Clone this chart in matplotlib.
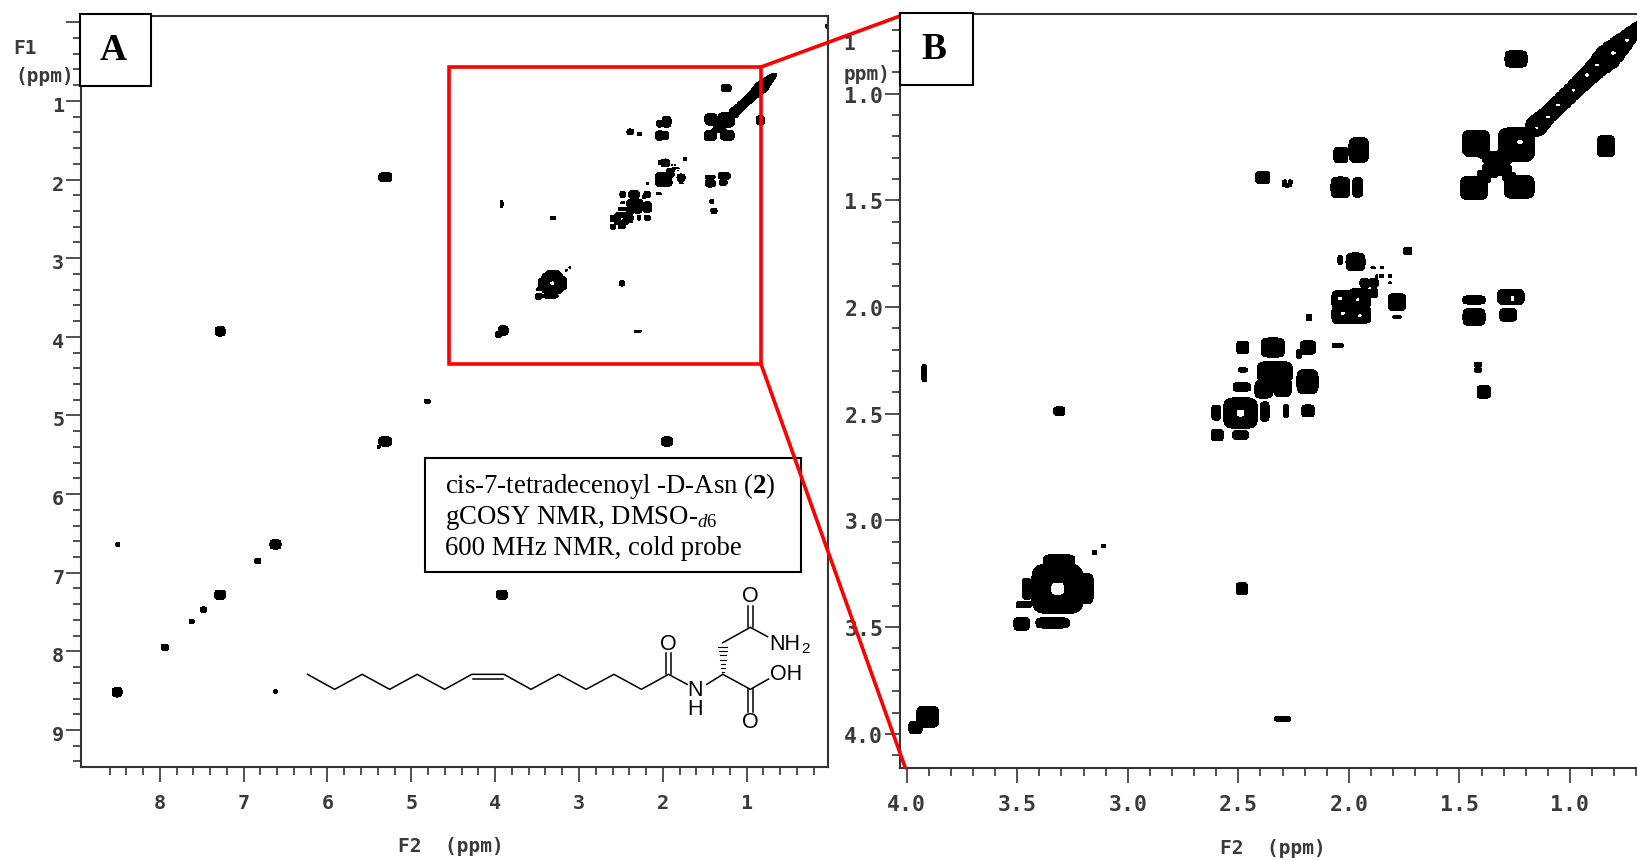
import numpy as np
import matplotlib
matplotlib.use("Agg")
import matplotlib.pyplot as plt
from matplotlib.patches import Rectangle
from matplotlib.transforms import ScaledTranslation

plt.rcParams['mathtext.fontset'] = 'custom'
plt.rcParams['mathtext.rm'] = 'Liberation Serif'
plt.rcParams['mathtext.bf'] = 'Liberation Serif:bold'
plt.rcParams['mathtext.it'] = 'Liberation Serif:italic'

# Cross peaks: (F2 ppm, F1 ppm, half-width F2, half-width F1)
methyl_peaks = [
    (1.244, 0.838, .050, .039), (0.837, 1.247, .040, .050),
    (1.242, 1.240, .083, .080), (1.425, 1.234, .062, .062),
    (1.434, 1.443, .062, .055), (1.230, 1.437, .068, .055),
    (1.390, 1.390, .030, .030), (1.360, 1.360, .035, .035),
    (1.300, 1.300, .035, .035), (1.275, 1.390, .030, .022),
    (1.300, 1.360, .035, .025), (1.360, 1.300, .035, .030),
    (1.390, 1.275, .028, .028), (1.330, 1.330, .045, .045),
]
diagonal_ridge = [
    (1.15, 1.15, .050, .050), (1.13, 1.13, .046, .046), (1.11, 1.11, .042, .042),
    (1.09, 1.09, .042, .042), (1.07, 1.07, .042, .042), (1.05, 1.05, .042, .042),
    (1.03, 1.03, .042, .042), (1.01, 1.01, .042, .042), (0.99, 0.99, .042, .042),
    (0.97, 0.97, .043, .043), (0.95, 0.95, .044, .044), (0.93, 0.93, .045, .045),
    (0.91, 0.91, .046, .046), (0.89, 0.89, .048, .048), (0.87, 0.87, .050, .050),
    (0.85, 0.85, .056, .056), (0.83, 0.83, .060, .060), (0.805, 0.805, .056, .056),
    (0.78, 0.78, .050, .050), (0.76, 0.76, .045, .045), (0.74, 0.74, .040, .040),
    (0.72, 0.72, .036, .036), (0.70, 0.70, .032, .032), (0.685, 0.685, .026, .026),
    (0.67, 0.67, .020, .020),
]
region_14_peaks = [
    (1.955, 1.265, .045, .058), (2.036, 1.288, .032, .037),
    (2.038, 1.440, .043, .049), (1.960, 1.440, .023, .045),
    (2.389, 1.393, .032, .030), (2.290, 1.415, .010, .010),
    (2.265, 1.415, .010, .010), (2.280, 1.430, .020, .008),
]
region_20_peaks = [
    (1.970, 1.789, .043, .042), (2.040, 1.780, .010, .020),
    (1.734, 1.738, .018, .018), (1.890, 1.816, .010, .004),
    (1.850, 1.816, .006, .005), (1.852, 1.855, .009, .008),
    (1.814, 1.855, .006, .006), (1.875, 1.855, .005, .005),
    (1.814, 1.886, .005, .004),
    (2.027, 1.967, .050, .045), (1.950, 1.958, .050, .045),
    (2.027, 2.037, .050, .042), (1.950, 2.037, .050, .040),
    (1.990, 2.000, .060, .060),
    (1.928, 1.888, .022, .020), (1.887, 1.887, .020, .020),
    (1.887, 1.934, .018, .020), (1.783, 1.977, .040, .040),
    (1.783, 2.047, .020, .006), (1.434, 1.967, .050, .020),
    (1.434, 2.047, .050, .040), (1.267, 1.953, .060, .037),
    (1.280, 2.037, .038, .030), (2.180, 2.050, .012, .015),
    (2.050, 2.180, .025, .010),
]
region_23_peaks = [
    (1.416, 2.270, .018, .012), (1.416, 2.295, .018, .010),
    (1.390, 2.398, .030, .030), (2.344, 2.190, .053, .045),
    (2.480, 2.190, .027, .030), (2.185, 2.190, .035, .032),
    (2.226, 2.220, .012, .020), (2.480, 2.295, .020, .010),
    (2.335, 2.305, .080, .050), (2.187, 2.350, .048, .056),
    (2.300, 2.375, .040, .045), (2.385, 2.385, .040, .042),
    (2.484, 2.375, .040, .020), (2.380, 2.490, .020, .045),
    (2.285, 2.487, .012, .030), (2.185, 2.487, .028, .028),
    (2.600, 2.495, .020, .035), (2.595, 2.600, .027, .027),
    (2.490, 2.600, .035, .022),
]
region_33_peaks = [
    (2.484, 3.320, .026, .028), (3.190, 3.320, .035, .070),
    (3.310, 3.190, .070, .030), (3.457, 3.320, .020, .050),
    (3.470, 3.395, .035, .015), (3.480, 3.485, .035, .030),
    (3.340, 3.480, .075, .025), (3.150, 3.152, .010, .010),
    (3.110, 3.120, .008, .008), (3.905, 3.920, .050, .050),
    (3.960, 3.970, .030, .030), (2.300, 3.930, .035, .012),
    (3.310, 2.488, .025, .020), (3.920, 2.310, .012, .040),
]
strong_core_peaks = [
    (3.317, 3.320, .115, .115), (2.490, 2.497, .075, .070),
]
downfield_peaks = [
    (5.31, 1.97, .065, .050), (7.28, 3.93, .050, .050), (4.81, 4.82, .030, .020),
    (5.31, 5.33, .065, .050), (1.95, 5.33, .055, .050), (8.50, 6.64, .020, .020),
    (6.62, 6.64, .055, .050), (6.83, 6.85, .030, .030), (7.28, 7.28, .055, .050),
    (3.92, 7.28, .055, .050), (7.48, 7.47, .030, .030), (7.62, 7.62, .025, .025),
    (7.94, 7.95, .035, .035), (8.51, 8.52, .050, .050), (6.62, 8.51, .020, .020),
    (5.39, 5.40, .015, .015), (0.04, 0.05, .020, .020),
]
# Light spots inside the dense contours of panel B
contour_holes = [
    (1.100, 1.110, .008, .005), (1.054, 1.054, .009, .004), (0.923, 0.913, .007, .006),
    (0.878, 0.866, .009, .005), (0.805, 0.810, .011, .006), (0.742, 0.750, .007, .005),
    (1.226, 1.227, .012, .011), (1.150, 1.160, .005, .004), (0.985, 0.985, .005, .004),
    (2.027, 2.030, .007, .007), (1.960, 1.967, .007, .006), (2.040, 1.960, .008, .006),
    (1.950, 2.040, .007, .005), (1.260, 1.960, .004, .014),
]
block_peaks = methyl_peaks + region_14_peaks + region_20_peaks + region_23_peaks + region_33_peaks

a_x_labels = [1, 2, 3, 4, 5, 6, 7, 8]
a_y_labels = [1, 2, 3, 4, 5, 6, 7, 8, 9]
b_x_labels = [1.0, 1.5, 2.0, 2.5, 3.0, 3.5, 4.0]
b_y_labels = [1.0, 1.5, 2.0, 2.5, 3.0, 3.5, 4.0]

W, H = 1637, 860
MONO = 'DejaVu Sans Mono'
TXT = '#3a3a3a'
fig = plt.figure(figsize=(W / 100, H / 100), dpi=100, facecolor='white')


def axes_px(l, t, r, b):
    return fig.add_axes([l / W, 1 - b / H, (r - l) / W, (b - t) / H])


def field(g2, g1, groups):
    z = np.zeros((g1.size, g2.size))
    for group, amp, p in groups:
        for c2, c1, w2, w1 in group:
            i0, i1 = np.searchsorted(g2, [c2 - 2.2 * w2, c2 + 2.2 * w2])
            j0, j1 = np.searchsorted(g1, [c1 - 2.2 * w1, c1 + 2.2 * w1])
            if i1 <= i0 or j1 <= j0:
                continue
            X, Y = np.meshgrid((g2[i0:i1] - c2) / w2, (g1[j0:j1] - c1) / w1)
            loc = amp * np.exp(-(np.abs(X) ** p + np.abs(Y) ** p))
            z[j0:j1, i0:i1] = np.maximum(z[j0:j1, i0:i1], loc)
    return z


def style(ax, xmaj, ymaj, xmin, ymin, xfmt, yfmt, size, yshift, right=True):
    for s in ax.spines.values():
        s.set_linewidth(1.5)
        s.set_color('#333333')
    ax.spines['right'].set_visible(right)
    ax.set_xticks(xmaj)
    ax.set_yticks(ymaj)
    ax.set_xticks(xmin, minor=True)
    ax.set_yticks(ymin, minor=True)
    ax.set_xticklabels(xfmt)
    ax.set_yticklabels(yfmt)
    ax.tick_params(which='major', length=10.5, width=1.2, color='#333333', labelsize=size,
                   labelcolor=TXT)
    ax.tick_params(axis='x', which='major', pad=9)
    ax.tick_params(axis='y', which='major', pad=1.5)
    ax.tick_params(which='minor', length=6, width=1.2, color='#333333')
    off = ScaledTranslation(0, -yshift / 100, fig.dpi_scale_trans)
    for lab in ax.get_xticklabels() + ax.get_yticklabels():
        lab.set_family(MONO)
        lab.set_weight('bold')
    for lab in ax.get_yticklabels():
        lab.set_transform(lab.get_transform() + off)


# Panel A
axA = axes_px(81, 16, 828, 767)
g2 = np.arange(0.0, 9.0, 0.006)
g1 = np.arange(-0.1, 9.5, 0.006)
zA = field(g2, g1, [(block_peaks + downfield_peaks + diagonal_ridge, 0.9, 3),
                    (strong_core_peaks, 1.0, 4)])
axA.contourf(g2, g1, zA, levels=[0.16, 0.995], colors='black')
axA.set_xlim(8.94, 0.03)
axA.set_ylim(9.47, -0.08)
xmi = [v / 5 for v in range(1, 44) if v % 5]
ymi = [v / 5 for v in range(0, 48) if v % 5]
style(axA, a_x_labels, [0] + a_y_labels, xmi, ymi,
      [str(v) for v in a_x_labels], [''] + [str(v) for v in a_y_labels], 14.5, 3.5)

# Panel B
axB = axes_px(900, 13.5, 1637, 768)
g2b = np.arange(0.6, 4.1, 0.0016)
g1b = np.arange(0.55, 4.2, 0.0016)
zB = field(g2b, g1b, [(block_peaks, 0.9, 4), (diagonal_ridge, 0.9, 2),
                      (strong_core_peaks, 1.0, 4)])
zHoles = field(g2b, g1b, [(contour_holes, 1.0, 2)])
axB.contourf(g2b, g1b, zB, levels=[0.33, 0.995], colors='black')
axB.contourf(g2b, g1b, zHoles, levels=[0.5, 1.01], colors='white')
axB.set_xlim(4.03, 0.697)
axB.set_ylim(4.16, 0.625)
xmb = [v / 10 for v in range(7, 41) if v % 5]
ymb = [v / 10 for v in range(7, 42) if v % 5]
style(axB, b_x_labels, b_y_labels, xmb, ymb,
      [f'{v:.1f}' for v in b_x_labels], [f'{v:.1f}' for v in b_y_labels], 15.5, 1, right=False)

# Overlay in pixel coordinates
ov = fig.add_axes([0, 0, 1, 1], facecolor='none')
ov.set_xlim(0, W)
ov.set_ylim(H, 0)
ov.axis('off')


def mono(x, y, s, ha='center'):
    ov.text(x, y, s, family=MONO, weight='bold', size=14, color=TXT, ha=ha, va='center')


mono(451, 846, 'F2  (ppm)')
mono(1273, 848, 'F2  (ppm)')
mono(13, 48, 'F1', ha='left')
mono(15, 77, '(ppm)', ha='left')
mono(849, 45, '1')
mono(844, 74, 'ppm)', ha='left')

# Zoom indicators
ov.add_patch(Rectangle((449, 67), 312, 297, fill=False, ec='#ff0000', lw=2.6, zorder=5))
ov.plot([761, 900], [67, 16], color='#ff0000', lw=2.6, zorder=5)
ov.plot([761, 905], [364, 767], color='#ff0000', lw=2.6, zorder=5)

# Letter boxes
for (x0, y0, x1, y1, s, tx) in [(80, 14, 151, 86, 'A', 113), (900, 13, 973, 85, 'B', 934)]:
    ov.add_patch(Rectangle((x0, y0), x1 - x0, y1 - y0, fc='white', ec='black', lw=1.5, zorder=6))
    ov.text(tx, (y0 + y1) / 2 + 0.5, s, family='Liberation Serif', weight='bold',
            size=27, ha='center', va='center', zorder=7)

# Info box
ov.add_patch(Rectangle((425, 458), 376, 114, fc='white', ec='black', lw=1.5, zorder=4))
info = ['cis-7-tetradecenoyl -D-Asn ($\\mathbf{2}$)',
        'gCOSY NMR, DMSO-$_{\\mathit{d6}}$',
        '600 MHz NMR, cold probe']
for y, s in zip([493, 524, 555], info):
    ov.text(445, y, s, family='Liberation Serif', size=19.3, ha='left', va='baseline', zorder=7)


# Molecule
def px(X, Y):
    return 280 + X / 2.8, 440 + Y / 3


def bond(pts, lw=1.1):
    a = [px(*p) for p in pts]
    ov.plot([q[0] for q in a], [q[1] for q in a], color='black', lw=lw, zorder=3,
            solid_joinstyle='miter')


bond([(77, 703), (153, 748), (230, 703), (307, 748), (384, 703), (461, 748), (537, 703),
      (627, 703), (703, 748), (780, 703), (857, 748), (935, 703), (1012, 748), (1088, 703),
      (1140, 733)])
bond([(540, 718), (624, 718)])
bond([(1080, 703), (1080, 640)])
bond([(1096, 703), (1096, 640)])
bond([(1195, 733), (1240, 703), (1317, 748), (1368, 717)])
bond([(1309, 748), (1309, 815)])
bond([(1325, 748), (1325, 815)])
bond([(1240, 608), (1317, 562), (1365, 590)])
bond([(1309, 562), (1309, 497)])
bond([(1325, 562), (1325, 497)])
for k in range(7):
    yy = 696 - k * 12.5
    hw = 3 + k * 1.6
    bond([(1240 - hw, yy), (1240 + hw, yy)], lw=0.8)
atom = [(1088, 612, 'O', 15.5), (1163, 752, 'N', 15.5), (1163, 808, 'H', 15.5), (1317, 846, 'O', 15.5),
        (1417, 705, 'OH', 15.5), (1317, 469, 'O', 15.5), (1413, 612, 'NH', 15.5), (1472, 628, '2', 11)]
for X, Y, s, fs in atom:
    x, y = px(X, Y)
    ov.text(x, y, s, family='Liberation Sans', size=fs, ha='center', va='center', zorder=7)

fig.savefig('out.png', dpi=100)
